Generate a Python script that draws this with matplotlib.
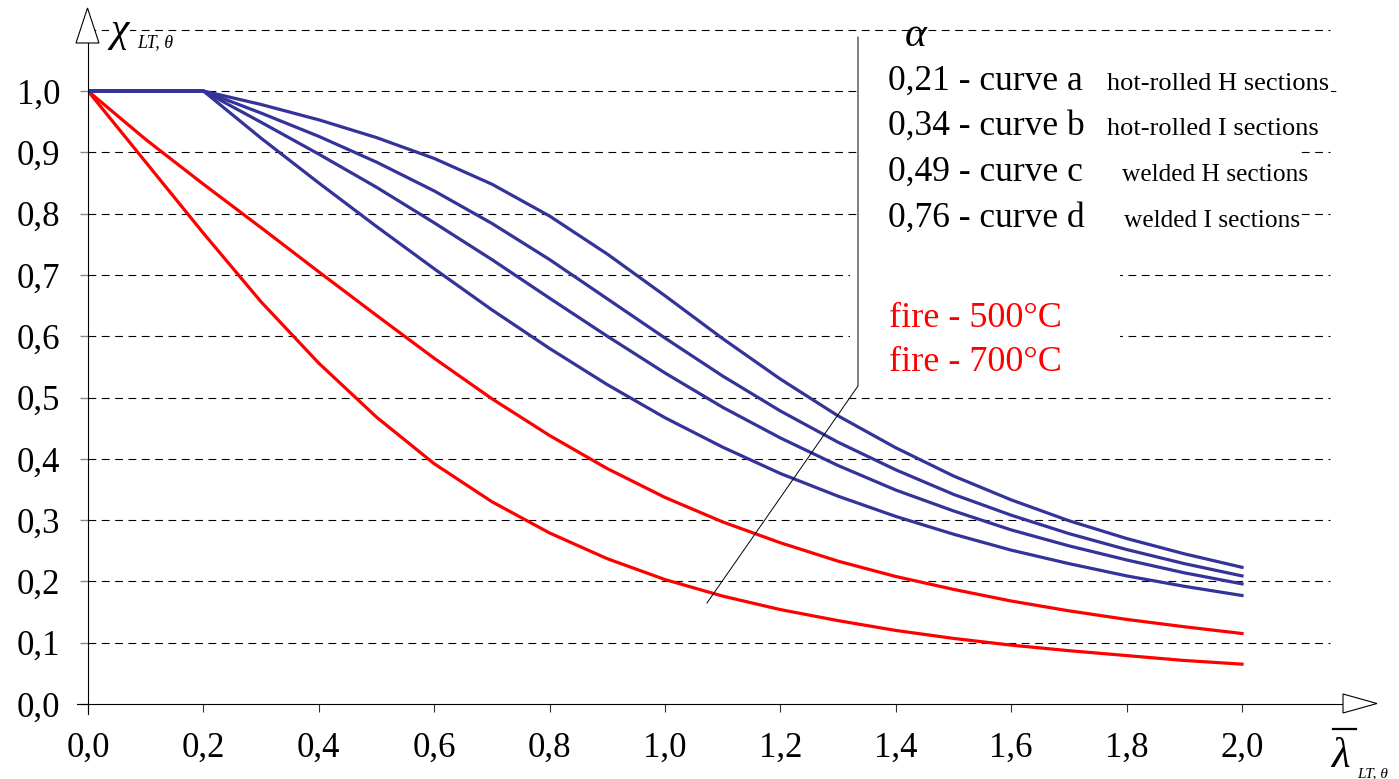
import matplotlib
matplotlib.use("Agg")
import matplotlib.pyplot as plt
from matplotlib.patches import Polygon, Rectangle

plt.rcParams['font.family'] = ['Liberation Serif', 'DejaVu Serif']

# --- dados ---
lam_steel = [0.0, 0.2, 0.3, 0.4, 0.5, 0.6, 0.7, 0.8, 0.9, 1.0, 1.1, 1.2, 1.3,
             1.4, 1.5, 1.6, 1.7, 1.8, 1.9, 2.0]
chi_a = [1.0, 1.0, 0.978, 0.953, 0.924, 0.890, 0.848, 0.796, 0.734, 0.666, 0.596,
         0.530, 0.470, 0.418, 0.372, 0.333, 0.299, 0.270, 0.245, 0.223]
chi_b = [1.0, 1.0, 0.964, 0.926, 0.884, 0.837, 0.784, 0.725, 0.661, 0.597, 0.535,
         0.478, 0.427, 0.382, 0.342, 0.308, 0.278, 0.252, 0.229, 0.209]
chi_c = [1.0, 1.0, 0.949, 0.897, 0.843, 0.785, 0.725, 0.662, 0.600, 0.540, 0.484,
         0.434, 0.389, 0.349, 0.315, 0.284, 0.258, 0.235, 0.214, 0.196]
chi_d = [1.0, 1.0, 0.923, 0.850, 0.779, 0.710, 0.643, 0.580, 0.521, 0.467, 0.419,
         0.376, 0.339, 0.306, 0.277, 0.251, 0.229, 0.209, 0.192, 0.177]

lam_fire = [0.0, 0.1, 0.2, 0.3, 0.4, 0.5, 0.6, 0.7, 0.8, 0.9, 1.0, 1.1, 1.2, 1.3,
            1.4, 1.5, 1.6, 1.7, 1.8, 1.9, 2.0]
chi_500 = [1.0, 0.921, 0.848, 0.777, 0.705, 0.634, 0.564, 0.498, 0.438, 0.384, 0.337,
           0.297, 0.263, 0.233, 0.208, 0.187, 0.168, 0.152, 0.138, 0.126, 0.115]
chi_700 = [1.0, 0.884, 0.768, 0.656, 0.556, 0.468, 0.392, 0.330, 0.279, 0.237, 0.203,
           0.176, 0.154, 0.136, 0.120, 0.107, 0.096, 0.087, 0.079, 0.071, 0.065]

x_ticks = [0.0, 0.2, 0.4, 0.6, 0.8, 1.0, 1.2, 1.4, 1.6, 1.8, 2.0]
y_ticks = [0.0, 0.1, 0.2, 0.3, 0.4, 0.5, 0.6, 0.7, 0.8, 0.9, 1.0]
grid_levels = [0.1, 0.2, 0.3, 0.4, 0.5, 0.6, 0.7, 0.8, 0.9, 1.0, 1.1]

legend_rows = [("0,21 - curve a", "hot-rolled H sections"),
               ("0,34 - curve b", "hot-rolled I sections"),
               ("0,49 - curve c", "welded H sections"),
               ("0,76 - curve d", "welded I sections")]
fire_labels = ["fire - 500°C", "fire - 700°C"]

BLUE = "#333399"
RED = "#ff0000"

W, H = 1399, 779
X0, Y0, SX, SY = 88, 704, 577.0, 613.0


def X(px):
    return (px - X0) / SX


def Y(py):
    return (Y0 - py) / SY


fig = plt.figure(figsize=(W / 100, H / 100), dpi=100)
ax = fig.add_axes([X0 / W, (H - Y0) / H, (1390 - X0) / W, (Y0 - 15) / H])
ax.set_xlim(0, X(1390))
ax.set_ylim(0, Y(15))
for s in ax.spines.values():
    s.set_visible(False)

# --- grelha tracejada ---
for v in grid_levels:
    xe = X(1340) if v == 1.0 else X(1330)
    ax.plot([0, xe], [v, v], color="black", lw=0.8, ls=(0, (7, 5)), zorder=1,
            clip_on=False)

# --- caixas brancas por trás das legendas ---
ax.add_patch(Rectangle((X(858), Y(235)), X(1300) - X(858), Y(45) - Y(235),
                       facecolor="white", edgecolor="none", zorder=2))
ax.add_patch(Rectangle((X(1300), Y(100)), X(1331) - X(1300), Y(62) - Y(100),
                       facecolor="white", edgecolor="none", zorder=2))
ax.add_patch(Rectangle((X(850), Y(375)), X(1120) - X(850), Y(255) - Y(375),
                       facecolor="white", edgecolor="none", zorder=2))

# --- curvas ---
ax.plot(lam_fire, chi_700, color=RED, lw=2.3, zorder=3)
ax.plot(lam_fire, chi_500, color=RED, lw=2.3, zorder=3)
for chi in (chi_d, chi_c, chi_b, chi_a):
    ax.plot(lam_steel, chi, color=BLUE, lw=2.3, zorder=4)

# --- linha indicadora ---
ax.plot([X(858), X(858), X(707)], [Y(37), Y(386), Y(603)], color="black", lw=0.7,
        zorder=5)

# --- eixos com setas ---
ax.plot([X(77), X(1343)], [0, 0], color="black", lw=0.8, zorder=5, clip_on=False)
ax.plot([0, 0], [Y(714), Y(43)], color="black", lw=0.8, zorder=5, clip_on=False)
ax.add_patch(Polygon([(X(76), Y(43)), (X(99), Y(43)), (X(87.5), Y(8))], closed=True,
                     facecolor="white", edgecolor="black", lw=0.8, zorder=6,
                     clip_on=False))
ax.add_patch(Polygon([(X(1343), Y(694)), (X(1343), Y(713)), (X(1377), Y(703.5))],
                     closed=True, facecolor="white", edgecolor="black", lw=0.8,
                     zorder=6, clip_on=False))

ax.set_xticks(x_ticks)
ax.set_xticklabels([f"{v:.1f}".replace(".", ",") for v in x_ticks], fontsize=25)
ax.set_yticks(y_ticks)
ax.set_yticklabels([f"{v:.1f}".replace(".", ",") for v in y_ticks], fontsize=25)
ax.tick_params(axis="x", direction="out", length=6, width=0.8, color="#333333",
               pad=14)
ax.tick_params(axis="y", direction="out", length=6, width=1.0, color="#888888",
               pad=14)

# --- rótulos dos eixos ---
ax.text(X(110), Y(41), "χ", fontsize=30, style="italic", va="baseline",
        ha="left", zorder=7, clip_on=False,
        bbox=dict(facecolor="white", edgecolor="none", pad=1))
ax.text(X(137), Y(47), "LT, θ", fontsize=13, style="italic", va="baseline",
        ha="left", zorder=7, clip_on=False,
        bbox=dict(facecolor="white", edgecolor="none", pad=1))
ax.text(X(1331), Y(767), "λ", fontsize=31, style="italic", va="baseline",
        ha="left", clip_on=False)
ax.plot([X(1333), X(1356)], [Y(729), Y(729)], color="black", lw=1.6, clip_on=False)
ax.text(X(1357), Y(777), "LT, θ", fontsize=11, style="italic", va="baseline",
        ha="left", clip_on=False)

# --- legenda ---
ax.text(X(905), Y(46), "α", fontsize=30, style="italic", va="baseline", ha="left",
        zorder=7)
row_base = [90, 135, 181, 227]
desc_x = [1107, 1107, 1122, 1124]
desc_size = [19, 19, 18.3, 18.3]
for (lab, desc), yb, xd, fs in zip(legend_rows, row_base, desc_x, desc_size):
    ax.text(X(888), Y(yb), lab, fontsize=25.5, va="baseline", ha="left", zorder=7,
            clip_on=False)
    ax.text(X(xd), Y(yb), desc, fontsize=fs, va="baseline", ha="left", zorder=7,
            clip_on=False)

for lab, yb in zip(fire_labels, [327, 371]):
    ax.text(X(889), Y(yb), lab, fontsize=26, color=RED, va="baseline", ha="left",
            zorder=7)

fig.savefig("out.png", dpi=100)
